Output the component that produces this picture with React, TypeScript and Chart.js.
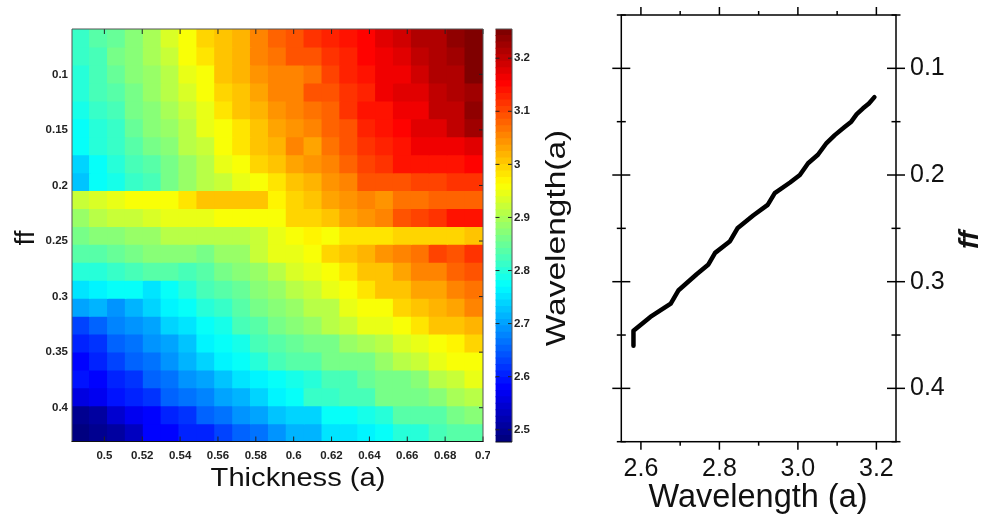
import React, { useEffect, useRef } from "react";
import { Chart, registerables } from "chart.js";
Chart.register(...registerables);

const thickness = [0.4876,0.4970,0.5065,0.5159,0.5254,0.5348,0.5442,0.5537,0.5631,0.5726,0.5820,0.5915,0.6009,0.6103,0.6198,0.6292,0.6387,0.6481,0.6575,0.6670,0.6764,0.6859,0.6953];
const fillFactor = [0.0673,0.0834,0.0996,0.1157,0.1318,0.1480,0.1641,0.1803,0.1964,0.2125,0.2287,0.2448,0.2610,0.2771,0.2932,0.3094,0.3255,0.3416,0.3578,0.3739,0.3901,0.4062,0.4223];
const wavelengthRows = [
[2.81,2.83,2.85,2.875,2.90,2.93,2.963,2.995,3.00,3.02,3.05,3.08,3.09,3.11,3.13,3.14,3.15,3.17,3.19,3.21,3.215,3.24,3.255],
[2.815,2.825,2.865,2.875,2.90,2.925,2.963,2.985,3.00,3.02,3.05,3.07,3.09,3.09,3.115,3.13,3.155,3.165,3.18,3.205,3.21,3.22,3.255],
[2.80,2.825,2.85,2.87,2.885,2.91,2.945,2.963,3.005,3.015,3.04,3.06,3.06,3.07,3.105,3.13,3.145,3.158,3.165,3.19,3.215,3.215,3.245],
[2.795,2.82,2.835,2.865,2.88,2.905,2.935,2.963,2.995,3.00,3.03,3.055,3.06,3.085,3.09,3.12,3.13,3.158,3.17,3.175,3.20,3.21,3.225],
[2.785,2.815,2.82,2.86,2.87,2.90,2.92,2.945,2.985,3.00,3.02,3.04,3.06,3.07,3.08,3.11,3.135,3.145,3.158,3.165,3.195,3.20,3.24],
[2.78,2.805,2.815,2.845,2.87,2.89,2.91,2.945,2.963,2.985,3.005,3.025,3.045,3.055,3.08,3.095,3.125,3.135,3.15,3.175,3.18,3.205,3.225],
[2.77,2.795,2.81,2.835,2.86,2.875,2.905,2.92,2.963,2.98,3.01,3.02,3.05,3.035,3.07,3.085,3.11,3.13,3.14,3.158,3.165,3.165,3.17],
[2.74,2.775,2.795,2.82,2.84,2.865,2.89,2.905,2.945,2.963,2.995,3.005,3.03,3.04,3.06,3.08,3.10,3.11,3.135,3.14,3.14,3.14,3.15],
[2.73,2.77,2.785,2.815,2.825,2.86,2.88,2.905,2.92,2.945,2.963,2.985,3.00,3.02,3.04,3.05,3.085,3.085,3.09,3.10,3.105,3.11,3.11],
[2.92,2.935,2.945,2.955,2.963,2.963,2.985,3.00,3.00,3.005,3.005,2.975,2.995,3.00,3.03,3.045,3.06,3.04,3.065,3.065,3.075,3.08,3.08],
[2.89,2.905,2.92,2.92,2.935,2.945,2.94,2.95,2.963,2.963,2.963,2.963,2.99,2.995,3.00,3.03,3.045,3.06,3.09,3.10,3.11,3.135,3.135],
[2.86,2.87,2.875,2.885,2.89,2.905,2.91,2.91,2.91,2.91,2.92,2.95,2.963,2.975,2.963,2.98,2.985,2.985,2.99,2.995,2.995,2.995,3.005],
[2.835,2.84,2.85,2.86,2.87,2.875,2.875,2.86,2.88,2.885,2.92,2.94,2.95,2.963,2.99,3.00,3.02,3.045,3.06,3.07,3.10,3.095,3.115],
[2.795,2.805,2.815,2.825,2.835,2.835,2.82,2.84,2.86,2.87,2.885,2.91,2.935,2.95,2.963,2.985,3.00,3.01,3.025,3.05,3.055,3.08,3.085],
[2.745,2.76,2.77,2.78,2.75,2.78,2.805,2.82,2.84,2.85,2.875,2.89,2.91,2.92,2.95,2.963,2.985,3.00,3.00,3.025,3.035,3.05,3.07],
[2.70,2.72,2.69,2.71,2.74,2.76,2.775,2.795,2.81,2.83,2.855,2.87,2.885,2.905,2.91,2.94,2.963,2.963,2.995,3.00,3.015,3.025,3.055],
[2.63,2.655,2.68,2.69,2.705,2.735,2.755,2.78,2.79,2.82,2.84,2.865,2.875,2.885,2.905,2.92,2.94,2.95,2.963,2.985,3.00,3.00,3.015],
[2.60,2.62,2.65,2.67,2.69,2.705,2.725,2.76,2.78,2.79,2.82,2.84,2.845,2.86,2.865,2.885,2.90,2.905,2.935,2.945,2.963,2.975,2.995],
[2.585,2.605,2.635,2.655,2.66,2.69,2.715,2.74,2.76,2.77,2.80,2.825,2.84,2.84,2.855,2.865,2.865,2.89,2.91,2.925,2.94,2.963,2.963],
[2.59,2.58,2.61,2.62,2.65,2.66,2.69,2.705,2.73,2.745,2.765,2.78,2.79,2.80,2.82,2.825,2.845,2.86,2.865,2.875,2.905,2.92,2.945],
[2.55,2.565,2.59,2.61,2.62,2.65,2.66,2.68,2.70,2.72,2.74,2.76,2.78,2.81,2.81,2.82,2.825,2.86,2.865,2.865,2.875,2.90,2.91],
[2.49,2.51,2.54,2.565,2.58,2.60,2.615,2.65,2.665,2.69,2.70,2.73,2.735,2.74,2.77,2.78,2.785,2.80,2.835,2.835,2.84,2.86,2.87],
[2.477,2.495,2.51,2.535,2.575,2.575,2.60,2.605,2.635,2.65,2.665,2.695,2.71,2.715,2.745,2.75,2.765,2.775,2.795,2.805,2.82,2.83,2.84],
];
const thicknessTicks = [0.5,0.52,0.54,0.56,0.58,0.6,0.62,0.64,0.66,0.68,0.7];
const ffTicks = [0.1,0.15,0.2,0.25,0.3,0.35,0.4];
const colorTicks = [2.5,2.6,2.7,2.8,2.9,3,3.1,3.2];
const lineWavelength = [3.195,3.181,3.166,3.15,3.136,3.119,3.094,3.073,3.051,3.026,3.005,2.98,2.941,2.923,2.886,2.846,2.827,2.789,2.772,2.742,2.696,2.676,2.624,2.581,2.581];
const lineFF = [0.127,0.133,0.1375,0.143,0.15,0.155,0.1626,0.17,0.181,0.189,0.2,0.207,0.217,0.228,0.238,0.25,0.262,0.273,0.2838,0.293,0.308,0.3206,0.333,0.346,0.36];
const lineXMajor = [2.6,2.8,3.0,3.2];
const lineXMinor = [2.7,2.9,3.1];
const lineYMajor = [0.1,0.2,0.3,0.4];
const lineYMinor = [0.05,0.15,0.25,0.35,0.45];

const C_MIN = 2.477, C_MAX = 3.255, LEVELS = 64;
const clamp = (v: number) => Math.max(0, Math.min(1, v));
function jet(value: number) {
  const i = Math.max(0, Math.min(LEVELS - 1, Math.floor(((value - C_MIN) / (C_MAX - C_MIN)) * LEVELS)));
  const t = i / (LEVELS - 1);
  const ch = (c: number) => Math.round(255 * clamp(1.5 - Math.abs(4 * t - c)));
  return `rgb(${ch(3)},${ch(2)},${ch(1)})`;
}
const levelValues = Array.from({ length: LEVELS }, (_, i) => C_MIN + ((i + 0.5) * (C_MAX - C_MIN)) / LEVELS);

const SANS = "'Liberation Sans', Arial, sans-serif";
const titlePlugin = (items: { text: string; x: number; y: number; rot: number; font: string; stretch?: number }[]) => ({
  id: "titles",
  afterDraw(chart: any) {
    const c = chart.ctx;
    for (const t of items) {
      c.save();
      c.translate(t.x, t.y);
      c.rotate(t.rot);
      c.scale(t.stretch ?? 1, 1);
      c.font = t.font;
      c.fillStyle = "#111";
      c.textAlign = "center";
      c.textBaseline = "middle";
      c.fillText(t.text, 0, 0);
      c.restore();
    }
  },
});
const hline = (c: any, x0: number, x1: number, y: number) => { c.beginPath(); c.moveTo(x0, y); c.lineTo(x1, y); c.stroke(); };
const vline = (c: any, x: number, y0: number, y1: number) => { c.beginPath(); c.moveTo(x, y0); c.lineTo(x, y1); c.stroke(); };

const heatFrame = {
  id: "heatFrame",
  afterDatasetsDraw(chart: any) {
    const c = chart.ctx, a = chart.chartArea, sx = chart.scales.x, sy = chart.scales.y;
    c.save();
    c.lineWidth = 1;
    c.strokeStyle = "#222";
    for (const v of thicknessTicks) {
      const x = sx.getPixelForValue(v);
      vline(c, x, a.top, a.top + 5);
      vline(c, x, a.bottom - 5, a.bottom);
    }
    for (const v of ffTicks) hline(c, a.right - 4, a.right, sy.getPixelForValue(v));
    c.strokeStyle = "#555";
    hline(c, a.left, a.right, a.top);
    vline(c, a.left, a.top, a.bottom);
    vline(c, a.right, a.top, a.bottom);
    c.strokeStyle = "#111";
    hline(c, a.left - 0.5, a.right + 0.5, a.bottom);
    c.restore();
  },
};
const barFrame = {
  id: "barFrame",
  afterDatasetsDraw(chart: any) {
    const c = chart.ctx, a = chart.chartArea, sy = chart.scales.y;
    c.save();
    c.lineWidth = 1;
    c.strokeStyle = "#222";
    for (const v of colorTicks) {
      const y = sy.getPixelForValue(v);
      hline(c, a.left, a.left + 4, y);
      hline(c, a.right - 4, a.right, y);
    }
    c.strokeStyle = "#555";
    hline(c, a.left, a.right, a.top);
    vline(c, a.right, a.top, a.bottom);
    c.strokeStyle = "#111";
    hline(c, a.left, a.right, a.bottom);
    c.restore();
  },
};
const lineFrame = {
  id: "lineFrame",
  afterDraw(chart: any) {
    const c = chart.ctx, a = chart.chartArea, sx = chart.scales.x, sy = chart.scales.y;
    c.save();
    c.lineWidth = 1.5;
    c.strokeStyle = "#000";
    c.strokeRect(a.left, a.top, a.right - a.left, a.bottom - a.top);
    for (const [list, len] of [[lineXMajor, 8], [lineXMinor, 4]] as [number[], number][])
      for (const v of list) {
        const x = sx.getPixelForValue(v);
        vline(c, x, a.top - len, a.top);
        vline(c, x, a.bottom, a.bottom + len);
      }
    for (const [list, o, i] of [[lineYMajor, 9, 9], [lineYMinor, 4.5, 4.5]] as [number[], number, number][])
      for (const v of list) {
        const y = sy.getPixelForValue(v);
        hline(c, a.left - o, a.left + i, y);
        hline(c, a.right - i, a.right + o, y);
      }
    c.restore();
  },
};

const pin = (size: number) => (s: any) => {
  if (s.isHorizontal()) s.height = size; else s.width = size;
  s.paddingTop = 0; s.paddingBottom = 0; s.paddingLeft = 0; s.paddingRight = 0;
};
const tickList = (list: number[]) => (s: any) => { s.ticks = list.map((value) => ({ value })); };
const smallFont = { family: SANS, size: 11.5, weight: "bold" as const };
const bigFont = { family: SANS, size: 25 };
const fixed = (digits: number) => (v: any) => Number(v).toFixed(digits);
const short = (v: any) => String(Number(Number(v).toFixed(3)));
const noGrid = { display: false, drawTicks: false };

export default function App() {
  const heatRef = useRef<HTMLCanvasElement>(null);
  const barRef = useRef<HTMLCanvasElement>(null);
  const lineRef = useRef<HTMLCanvasElement>(null);

  useEffect(() => {
    const halfH = (fillFactor[1] - fillFactor[0]) / 2 + 0.0003;
    const heat = new Chart(heatRef.current!, {
      type: "bar",
      data: {
        datasets: wavelengthRows.map((row, r) => ({
          data: row.map((_, c) => ({ x: thickness[c], y: [fillFactor[r] - halfH, fillFactor[r] + halfH] })),
          backgroundColor: row.map((v) => jet(v)),
          borderWidth: 0,
          barThickness: 18.6,
          grouped: false,
        })),
      } as any,
      options: {
        responsive: false,
        animation: false,
        layout: { padding: { top: 29, right: 7 } },
        plugins: { legend: { display: false }, tooltip: { enabled: false } },
        scales: {
          x: {
            type: "linear", min: 0.4829, max: 0.7, offset: false,
            grid: noGrid, border: { display: false },
            afterBuildTicks: tickList(thicknessTicks), afterFit: pin(74.5),
            ticks: { font: smallFont, color: "#222", padding: 7, maxRotation: 0, autoSkip: false, callback: short },
          },
          y: {
            type: "linear", reverse: true, min: 0.0592, max: 0.4304,
            grid: noGrid, border: { display: false },
            afterBuildTicks: tickList(ffTicks), afterFit: pin(72),
            ticks: { font: smallFont, color: "#222", padding: 4, autoSkip: false, callback: short },
          },
        },
      } as any,
      plugins: [heatFrame, titlePlugin([
        { text: "ff", x: 26, y: 238, rot: -Math.PI / 2, font: `28px ${SANS}` },
        { text: "Thickness (a)", x: 298, y: 479, rot: 0, font: `26px ${SANS}`, stretch: 1.12 },
      ])] as any,
    });

    const halfL = (levelValues[1] - levelValues[0]) / 2 + 0.0003;
    const bar = new Chart(barRef.current!, {
      type: "bar",
      data: {
        labels: ["Wavelength"],
        datasets: levelValues.map((v) => ({
          data: [[v - halfL, v + halfL]],
          backgroundColor: jet(v),
          borderWidth: 0,
          categoryPercentage: 1,
          barPercentage: 1,
          grouped: false,
        })),
      } as any,
      options: {
        responsive: false,
        animation: false,
        layout: { padding: { top: 29, bottom: 74, left: 5.5 } },
        plugins: { legend: { display: false }, tooltip: { enabled: false } },
        scales: {
          x: { display: false },
          y: {
            type: "linear", position: "right", min: C_MIN, max: C_MAX,
            grid: noGrid, border: { display: false },
            afterBuildTicks: tickList(colorTicks), afterFit: pin(78),
            ticks: { font: smallFont, color: "#222", padding: 2, autoSkip: false, callback: short },
          },
        },
      } as any,
      plugins: [barFrame, titlePlugin([
        { text: "Wavelength(a)", x: 68, y: 238, rot: -Math.PI / 2, font: `27px ${SANS}`, stretch: 1.24 },
      ])] as any,
    });

    const line = new Chart(lineRef.current!, {
      type: "scatter",
      data: {
        datasets: [{
          data: lineWavelength.map((x, i) => ({ x, y: lineFF[i] })),
          showLine: true,
          borderColor: "#000",
          borderWidth: 4.5,
          borderCapStyle: "round",
          borderJoinStyle: "round",
          pointRadius: 0,
          tension: 0,
        }],
      } as any,
      options: {
        responsive: false,
        animation: false,
        layout: { padding: { top: 15, left: 21.3 } },
        plugins: { legend: { display: false }, tooltip: { enabled: false } },
        scales: {
          x: {
            type: "linear", min: 2.55, max: 3.25,
            grid: noGrid, border: { display: false },
            afterBuildTicks: tickList(lineXMajor), afterFit: pin(74.3),
            ticks: { font: bigFont, color: "#111", padding: 12, maxRotation: 0, autoSkip: false, callback: fixed(1) },
          },
          y: {
            type: "linear", position: "right", reverse: true, min: 0.05, max: 0.45,
            grid: noGrid, border: { display: false },
            afterBuildTicks: tickList(lineYMajor), afterFit: pin(86),
            ticks: { font: bigFont, color: "#111", padding: 14, autoSkip: false, callback: fixed(1) },
          },
        },
      } as any,
      plugins: [lineFrame, titlePlugin([
        { text: "ff", x: 370, y: 240, rot: -Math.PI / 2, font: `italic bold 28px ${SANS}` },
        { text: "Wavelength (a)", x: 158, y: 498, rot: 0, font: `32.5px ${SANS}` },
      ])] as any,
    });

    return () => { heat.destroy(); bar.destroy(); line.destroy(); };
  }, []);

  const abs = (left: number, width: number): React.CSSProperties => ({ position: "absolute", left, top: 0, width, height: 516, display: "block" });
  return (
    <div style={{ position: "absolute", left: 0, top: 0, width: 982, height: 516, overflow: "hidden", background: "#fff" }}>
      <canvas ref={heatRef} width={490} height={516} style={abs(0, 490)} />
      <canvas ref={barRef} width={100} height={516} style={abs(490, 100)} />
      <canvas ref={lineRef} width={382} height={516} style={abs(600, 382)} />
    </div>
  );
}
